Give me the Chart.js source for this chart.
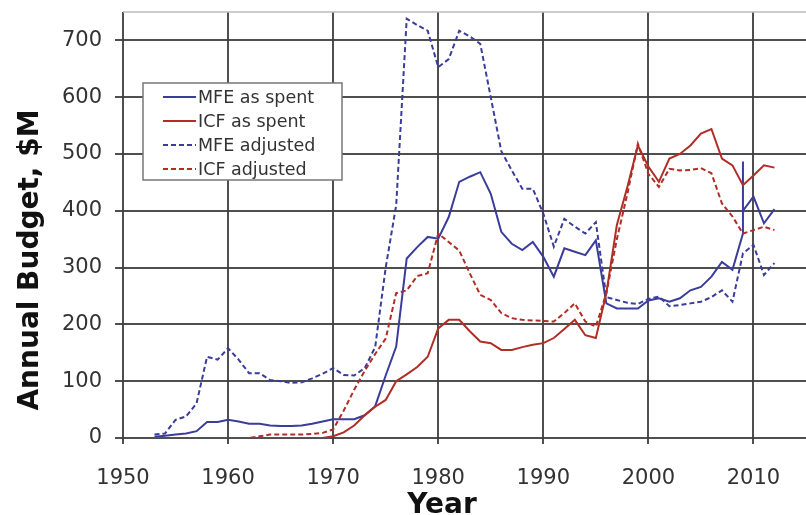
<!DOCTYPE html>
<html lang="en">
<head>
<meta charset="UTF-8">
<title>Annual Budget</title>
<script src="https://cdn.jsdelivr.net/npm/chart.js@4.4.1/dist/chart.umd.js"></script>
<style>
    body { margin: 0; background: #fff; }
    #wrap { width: 806px; height: 515px; }
</style>
</head>
<body>
<div id="wrap"><canvas id="budget" width="806" height="515"></canvas></div>
<script>
// years 1953..2012
const years = [];
for (let y = 1953; y <= 2012; y++) years.push(y);

const mfeSpent = [2, 4, 6, 8, 12, 28, 28, 32, 29, 25, 25, 22, 21, 21, 22, 25, 29, 33, 33, 33,
    40, 56, 110, 161, 316, 336, 354, 351, 389, 451, 460, 468, 430, 363, 342, 331, 345, 319, 284, 334,
    328, 322, 348, 237, 228, 228, 228, 242, 246, 240, 246, 260, 266, 284, 310, 296, 360, 425, 378, 403];
// 2009 stimulus spike, drawn after the 2009 point
const mfeSpike2009 = [487, 400];

const icfSpent = [0, 0, 0, 0, 0, 0, 0, 0, 0, 0, 0, 0, 0, 0, 0, 0, 0, 3, 10, 22,
    40, 55, 67, 100, 112, 125, 143, 193, 208, 208, 188, 170, 167, 155, 155, 160, 164, 167, 176, 192,
    208, 181, 176, 255, 375, 442, 515, 478, 451, 492, 500, 515, 536, 544, 492, 480, 445, 462, 480, 476];

const mfeAdjusted = [6, 8, 32, 38, 61, 143, 138, 158, 138, 114, 114, 102, 100, 97, 98, 105, 113, 123, 111, 110,
    123, 160, 300, 410, 738, 727, 717, 653, 667, 717, 707, 694, 600, 505, 471, 439, 439, 395, 337, 386,
    372, 360, 380, 248, 243, 238, 236, 245, 249, 232, 234, 237, 240, 248, 260, 240, 325, 340, 287, 308];

const icfAdjusted = [0, 0, 0, 0, 0, 0, 0, 0, 0, 0, 3, 6, 6, 6, 6, 7, 9, 15, 48, 85,
    118, 148, 175, 255, 260, 285, 290, 360, 345, 330, 290, 252, 243, 220, 211, 208, 207, 206, 205, 220,
    237, 205, 196, 255, 350, 430, 518, 465, 442, 474, 471, 472, 475, 466, 413, 390, 360, 366, 372, 366];

const xTicks = [1950, 1960, 1970, 1980, 1990, 2000, 2010];
const yTicks = [0, 100, 200, 300, 400, 500, 600, 700];

const BLUE = '#3a3d9a';
const RED = '#b02e26';
const GRID = 'rgba(60,60,60,0.9)';
const FONT = "'DejaVu Sans', Verdana, sans-serif";

function toPoints(vals) {
    return years.map((y, i) => ({ x: y, y: vals[i] }));
}

const mfeSpentPts = toPoints(mfeSpent);
const spikeAt = years.indexOf(2009) + 1;
mfeSpentPts.splice(spikeAt, 0, ...mfeSpike2009.map(v => ({ x: 2009, y: v })));

const legendItems = [
    { text: 'MFE as spent', color: BLUE, dash: [] },
    { text: 'ICF as spent', color: RED, dash: [] },
    { text: 'MFE adjusted', color: BLUE, dash: [5, 3] },
    { text: 'ICF adjusted', color: RED, dash: [5, 3] }
];

const frame = {
    id: 'frame',
    beforeDatasetsDraw(chart) {
        const { ctx, chartArea } = chart;
        ctx.save();
        ctx.strokeStyle = '#bbb';
        ctx.lineWidth = 1.5;
        ctx.beginPath();
        ctx.moveTo(chartArea.left, chartArea.top);
        ctx.lineTo(chartArea.right, chartArea.top);
        ctx.stroke();
        ctx.restore();
    },
    afterDraw(chart) {
        const { ctx } = chart;
        ctx.save();
        // axis titles
        ctx.fillStyle = '#111';
        ctx.font = 'bold 28px ' + FONT;
        ctx.textAlign = 'center';
        ctx.textBaseline = 'middle';
        ctx.fillText('Year', 442, 506);
        ctx.translate(31, 260);
        ctx.rotate(-Math.PI / 2);
        ctx.font = 'bold 28px ' + FONT;
        ctx.fillText('Annual Budget, $M', 0, 0);
        ctx.restore();

        // legend box
        ctx.save();
        const bx = 143, by = 83, bw = 199, bh = 97;
        ctx.fillStyle = '#fff';
        ctx.fillRect(bx, by, bw, bh);
        ctx.strokeStyle = '#777';
        ctx.lineWidth = 1.5;
        ctx.strokeRect(bx, by, bw, bh);
        ctx.font = '17.5px ' + FONT;
        ctx.textAlign = 'left';
        ctx.textBaseline = 'middle';
        legendItems.forEach((it, i) => {
            const cy = 97 + i * 24;
            ctx.strokeStyle = it.color;
            ctx.lineWidth = 2;
            ctx.setLineDash(it.dash);
            ctx.beginPath();
            ctx.moveTo(163, cy);
            ctx.lineTo(196, cy);
            ctx.stroke();
            ctx.setLineDash([]);
            ctx.fillStyle = '#333';
            ctx.fillText(it.text, 198, cy + 1);
        });
        ctx.restore();
    }
};

function lineSet(label, data, color, dashed) {
    return {
        label: label,
        data: data,
        borderColor: color,
        borderWidth: 2,
        borderDash: dashed ? [5, 3] : [],
        pointRadius: 0,
        tension: 0,
        fill: false
    };
}

new Chart(document.getElementById('budget'), {
    type: 'line',
    data: {
        datasets: [
            lineSet('ICF adjusted', toPoints(icfAdjusted), RED, true),
            lineSet('MFE adjusted', toPoints(mfeAdjusted), BLUE, true),
            lineSet('ICF as spent', toPoints(icfSpent), RED, false),
            lineSet('MFE as spent', mfeSpentPts, BLUE, false)
        ]
    },
    options: {
        responsive: false,
        animation: false,
        layout: { padding: 0 },
        plugins: { legend: { display: false }, tooltip: { enabled: false } },
        scales: {
            x: {
                type: 'linear',
                min: 1950,
                max: 2015,
                afterBuildTicks(scale) { scale.ticks = xTicks.map(v => ({ value: v })); },
                afterFit(scale) {
                    scale.height = 77;
                    scale.paddingLeft = 0;
                    scale.paddingRight = 0;
                },
                grid: { color: GRID, lineWidth: 2, tickLength: 6 },
                border: { display: false },
                ticks: {
                    color: '#333', font: { family: FONT, size: 21 }, padding: 22, maxRotation: 0,
                    callback: v => String(v)
                }
            },
            y: {
                min: 0,
                max: 750,
                afterBuildTicks(scale) { scale.ticks = yTicks.map(v => ({ value: v })); },
                afterFit(scale) {
                    scale.width = 123;
                    scale.paddingTop = 12;
                    scale.paddingBottom = 0;
                },
                grid: { color: GRID, lineWidth: 2, tickLength: 8 },
                border: { display: false },
                ticks: { color: '#333', font: { family: FONT, size: 21 }, padding: 13 }
            }
        }
    },
    plugins: [frame]
});
</script>
</body>
</html>
